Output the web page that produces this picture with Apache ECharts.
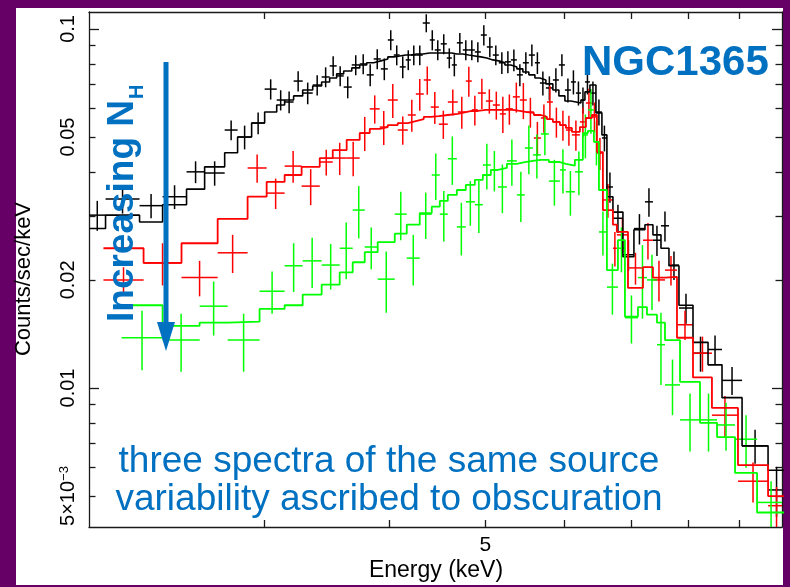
<!DOCTYPE html>
<html>
<head>
<meta charset="utf-8">
<title>NGC1365 spectra</title>
<script src="https://cdn.jsdelivr.net/npm/echarts@6/dist/echarts.min.js"></script>
<style>
  html, body { margin: 0; padding: 0; background: #660066; }
  #chart { width: 790px; height: 587px; }
</style>
</head>
<body>
<div id="chart"></div>
<script>
// ---- Energy range (keV) and count-rate range (counts/sec/keV) ----
const X_MIN = 2.0;
const X_MAX = 9.93;
const Y_MIN = 0.0041;
const Y_MAX = 0.1115;

// ---- Axis ticks and labels ----
const xTickValues = [3, 4, 5, 6, 7, 8, 9];
const xLabelValues = [5];
const yMajorTicks = [0.01, 0.1];
const yMinorTicks = [0.005, 0.006, 0.007, 0.008, 0.009, 0.02, 0.03, 0.04, 0.05, 0.06, 0.07, 0.08, 0.09];
const yLabelValues = [0.005, 0.01, 0.02, 0.05, 0.1];

// ---- Spectrum 1 (black): bin edges, data, errors, folded model ----
const blackEdges = [2.0, 2.078, 2.248, 2.371, 2.506, 2.613, 2.737, 2.820, 2.913, 3.002, 3.087, 3.144, 3.210, 3.278, 3.355, 3.425, 3.489, 3.546, 3.604, 3.672, 3.740, 3.801, 3.863, 3.927, 3.991, 4.046, 4.103, 4.160, 4.209, 4.268, 4.327, 4.398, 4.449, 4.511, 4.574, 4.628, 4.682, 4.747, 4.813, 4.881, 4.949, 5.018, 5.088, 5.159, 5.232, 5.305, 5.379, 5.454, 5.530, 5.608, 5.673, 5.752, 5.846, 5.928, 6.011, 6.095, 6.166, 6.238, 6.296, 6.369, 6.458, 6.548, 6.624, 6.717, 6.874, 7.051, 7.233, 7.368, 7.506, 7.646, 7.825, 8.083, 8.369, 8.644, 9.054, 9.615, 10.0];
const blackRate = [0.0303, 0.0336, 0.0322, 0.0341, 0.0400, 0.0397, 0.0523, 0.0500, 0.0547, 0.0680,
  0.0634, 0.0626, 0.0716, 0.0663, 0.0698, 0.0735, 0.0789, 0.0740, 0.0689, 0.0794,
  0.0799, 0.0745, 0.0825, 0.0774, 0.0932, 0.0846, 0.0784, 0.0820, 0.0846, 0.0846,
  0.1039, 0.0932, 0.0874, 0.0909, 0.0830, 0.0794, 0.0915, 0.0874, 0.0874, 0.0863,
  0.0962, 0.0891, 0.0846, 0.0805, 0.0810, 0.0820, 0.0745, 0.0805, 0.0846, 0.0805,
  0.0707, 0.0685, 0.0721, 0.0794, 0.0676, 0.0712, 0.0663, 0.0634, 0.0712, 0.0663,
  0.0587, 0.0497, 0.0363, 0.0297, 0.0235, 0.0278, 0.0330, 0.0258, 0.0283, 0.0220,
  0.0167, 0.0125, 0.0128, 0.0105, 0.0069, 0.0052];
const blackErr = [0.0029, 0.0030, 0.0025, 0.0026, 0.0028, 0.0031, 0.0033, 0.0038, 0.0038, 0.0044,
  0.0041, 0.0044, 0.0046, 0.0046, 0.0045, 0.0047, 0.0050, 0.0047, 0.0048, 0.0051,
  0.0051, 0.0052, 0.0053, 0.0054, 0.0060, 0.0054, 0.0055, 0.0052, 0.0054, 0.0054,
  0.0060, 0.0060, 0.0056, 0.0058, 0.0053, 0.0056, 0.0059, 0.0056, 0.0056, 0.0055,
  0.0062, 0.0057, 0.0054, 0.0056, 0.0057, 0.0057, 0.0052, 0.0056, 0.0059, 0.0056,
  0.0054, 0.0053, 0.0056, 0.0056, 0.0052, 0.0055, 0.0051, 0.0053, 0.0055, 0.0051,
  0.0049, 0.0041, 0.0035, 0.0027, 0.0023, 0.0027, 0.0030, 0.0025, 0.0027, 0.0020,
  0.0016, 0.0014, 0.0012, 0.00094, 0.00075, 0.00083];
const blackModel = [0.0278, 0.0303, 0.0290, 0.0324, 0.0358, 0.0413, 0.0452, 0.0500, 0.0547, 0.0587,
  0.0614, 0.0634, 0.0651, 0.0676, 0.0694, 0.0712, 0.0730, 0.0750, 0.0764, 0.0779,
  0.0794, 0.0805, 0.0815, 0.0825, 0.0836, 0.0841, 0.0846, 0.0846, 0.0852, 0.0852,
  0.0857, 0.0857, 0.0857, 0.0857, 0.0857, 0.0852, 0.0852, 0.0846, 0.0841, 0.0836,
  0.0830, 0.0820, 0.0815, 0.0805, 0.0794, 0.0784, 0.0774, 0.0759, 0.0745, 0.0730,
  0.0721, 0.0703, 0.0676, 0.0651, 0.0630, 0.0626, 0.0622, 0.0634, 0.0668, 0.0698,
  0.0584, 0.0507, 0.0341, 0.0309, 0.0232, 0.0276, 0.0285, 0.0267, 0.0245, 0.0219,
  0.0170, 0.0134, 0.0116, 0.0094, 0.0069, 0.0059];

// ---- Spectrum 2 (red) ----
const redEdges = [2.068, 2.269, 2.477, 2.693, 2.886, 3.016, 3.144, 3.270, 3.410, 3.514, 3.629, 3.740, 3.828, 3.917, 3.991, 4.084, 4.180, 4.258, 4.337, 4.408, 4.491, 4.585, 4.692, 4.780, 4.847, 4.915, 5.007, 5.088, 5.171, 5.244, 5.329, 5.416, 5.505, 5.595, 5.686, 5.766, 5.846, 5.942, 6.025, 6.109, 6.223, 6.310, 6.398, 6.473, 6.563, 6.717, 6.778, 6.955, 7.200, 7.368, 7.576, 7.789, 8.083, 8.445, 8.969, 9.615, 10.0];
const redRate = [0.0200, 0.0223, 0.0203, 0.0238, 0.0410, 0.0349, 0.0415, 0.0365, 0.0426, 0.0437,
  0.0437, 0.0513, 0.0599, 0.0533, 0.0634, 0.0523, 0.0576, 0.0659, 0.0721, 0.0606,
  0.0543, 0.0626, 0.0587, 0.0716, 0.0595, 0.0663, 0.0630, 0.0614, 0.0580, 0.0599,
  0.0647, 0.0634, 0.0587, 0.0497, 0.0565, 0.0626, 0.0551, 0.0540, 0.0523, 0.0507,
  0.0551, 0.0622, 0.0569, 0.0451, 0.0334, 0.0245, 0.0267, 0.0216, 0.0258, 0.0200,
  0.0213, 0.0150, 0.0125, 0.0084, 0.0055, 0.0047];
const redErr = [0.0017, 0.0030, 0.0023, 0.0029, 0.0037, 0.0034, 0.0042, 0.0042, 0.0035, 0.0045,
  0.0048, 0.0056, 0.0054, 0.0058, 0.0069, 0.0047, 0.0059, 0.0067, 0.0065, 0.0062,
  0.0049, 0.0052, 0.0060, 0.0069, 0.0057, 0.0064, 0.0049, 0.0055, 0.0067, 0.0058,
  0.0062, 0.0073, 0.0056, 0.0054, 0.0051, 0.0068, 0.0053, 0.0052, 0.0050, 0.0049,
  0.0053, 0.0060, 0.0055, 0.0046, 0.0036, 0.0027, 0.0029, 0.0022, 0.0030, 0.0026,
  0.0020, 0.0014, 0.0014, 0.0011, 0.0007, 0.0006];
const redModel = [0.0245, 0.0223, 0.0253, 0.0296, 0.0341, 0.0375, 0.0392, 0.0413, 0.0437, 0.0460,
  0.0491, 0.0513, 0.0527, 0.0533, 0.0540, 0.0547, 0.0554, 0.0561, 0.0569, 0.0572,
  0.0576, 0.0580, 0.0587, 0.0591, 0.0591, 0.0595, 0.0595, 0.0595, 0.0595, 0.0595,
  0.0591, 0.0587, 0.0584, 0.0576, 0.0569, 0.0561, 0.0551, 0.0540, 0.0530, 0.0517,
  0.0533, 0.0565, 0.0576, 0.0454, 0.0313, 0.0285, 0.0272, 0.0190, 0.0217, 0.0203,
  0.0204, 0.0138, 0.0107, 0.0088, 0.0061, 0.0050];

// ---- Spectrum 3 (green) ----
const greenEdges = [2.156, 2.371, 2.583, 2.756, 2.967, 3.144, 3.278, 3.425, 3.571, 3.680, 3.784, 3.899, 4.056, 4.170, 4.297, 4.418, 4.501, 4.585, 4.682, 4.780, 4.881, 4.972, 5.065, 5.148, 5.256, 5.379, 5.479, 5.582, 5.686, 5.792, 5.942, 6.025, 6.151, 6.266, 6.339, 6.428, 6.503, 6.624, 6.795, 6.906, 7.117, 7.267, 7.437, 7.576, 7.844, 8.215, 8.545, 8.908, 9.374, 10.0];
const greenRate = [0.0138, 0.0136, 0.0169, 0.0136, 0.0186, 0.0219, 0.0226, 0.0220, 0.0245, 0.0313,
  0.0247, 0.0201, 0.0305, 0.0230, 0.0305, 0.0392, 0.0305, 0.0435, 0.0281, 0.0330,
  0.0324, 0.0418, 0.0405, 0.0363, 0.0429, 0.0345, 0.0466, 0.0446, 0.0510, 0.0377,
  0.0405, 0.0352, 0.0400, 0.0507, 0.0595, 0.0485, 0.0272, 0.0191, 0.0245, 0.0157,
  0.0203, 0.0200, 0.0132, 0.0102, 0.00815, 0.00815, 0.00789, 0.0072, 0.0048];
const greenErr = [0.0026, 0.0025, 0.0029, 0.0025, 0.0025, 0.0034, 0.0036, 0.0032, 0.0044, 0.0052,
  0.0033, 0.0039, 0.0047, 0.0037, 0.0045, 0.0058, 0.0049, 0.0067, 0.0047, 0.0047,
  0.0054, 0.0061, 0.0052, 0.0056, 0.0063, 0.0055, 0.0072, 0.0063, 0.0065, 0.0055,
  0.0057, 0.0050, 0.0056, 0.0071, 0.0084, 0.0068, 0.0038, 0.0031, 0.0035, 0.0024,
  0.0047, 0.0035, 0.0030, 0.0018, 0.0015, 0.0015, 0.0012, 0.0012, 0.0007];
const greenModel = [0.0170, 0.0149, 0.0152, 0.0153, 0.0166, 0.0170, 0.0182, 0.0194, 0.0210, 0.0224,
  0.0239, 0.0255, 0.0269, 0.0285, 0.0307, 0.0320, 0.0332, 0.0345, 0.0356, 0.0368,
  0.0380, 0.0392, 0.0405, 0.0410, 0.0421, 0.0426, 0.0429, 0.0432, 0.0432, 0.0426,
  0.0421, 0.0416, 0.0432, 0.0513, 0.0520, 0.0485, 0.0356, 0.0213, 0.0258, 0.0158,
  0.0168, 0.0160, 0.0152, 0.0136, 0.0104, 0.0080, 0.0073, 0.0058, 0.0045];

// ---- Styling ----
const FONT = '"Liberation Sans", Arial, Helvetica, sans-serif';
const BLUE = '#0070c0';
const FRAME = { color: '#1a1a1a', width: 1.3 };
const COLORS = { black: '#000000', red: '#ff0000', green: '#00ff00' };

// Data points: horizontal bar across the energy bin, vertical bar for the 1-sigma error
function crossSeries(name, edges, rate, err, color) {
  const data = rate.map((r, i) => [edges[i], edges[i + 1], r, err[i]]);
  return {
    type: 'custom',
    name: name,
    coordinateSystem: 'cartesian2d',
    xAxisIndex: 0,
    yAxisIndex: 0,
    clip: true,
    silent: true,
    encode: { x: [0, 1], y: [2] },
    data: data,
    renderItem: function (params, api) {
      const lo = api.value(0), hi = api.value(1), r = api.value(2), e = api.value(3);
      const mid = Math.sqrt(lo * hi);
      const a = api.coord([lo, r]);
      const b = api.coord([hi, r]);
      const c = api.coord([mid, r - e]);
      const d = api.coord([mid, r + e]);
      const style = { stroke: color, lineWidth: 1.5 };
      return {
        type: 'group',
        children: [
          { type: 'line', shape: { x1: a[0], y1: a[1], x2: b[0], y2: b[1] }, style: style },
          { type: 'line', shape: { x1: c[0], y1: c[1], x2: d[0], y2: d[1] }, style: style }
        ]
      };
    }
  };
}

// Folded model: flat across each bin, joined into a histogram outline
function modelSeries(name, edges, model, color, width) {
  const pts = [];
  model.forEach((m, i) => { pts.push([edges[i], m]); pts.push([edges[i + 1], m]); });
  return {
    type: 'line',
    name: name,
    xAxisIndex: 0,
    yAxisIndex: 0,
    data: pts,
    symbol: 'none',
    showSymbol: false,
    silent: true,
    clip: true,
    lineStyle: { color: color, width: width },
    z: 3
  };
}

function xAxisCfg(position, showLabels) {
  return {
    type: 'log', logBase: 10, min: X_MIN, max: X_MAX, position: position,
    axisLine: { show: true, lineStyle: FRAME },
    axisTick: { show: true, inside: true, length: 7, customValues: xTickValues, lineStyle: FRAME },
    axisLabel: showLabels ? {
      show: true, customValues: xLabelValues, color: '#000', fontSize: 21, fontFamily: FONT, margin: 8,
      formatter: v => String(Math.round(v))
    } : { show: false },
    splitLine: { show: false }, minorTick: { show: false }, minorSplitLine: { show: false }
  };
}

function yLabel(v) {
  if (Math.abs(v - 0.005) < 1e-7) return '{m|5×10}{s|−3}';
  return String(Number(v.toPrecision(3)));
}

function yAxisCfg(position, ticks, len, showLine, showLabels) {
  return {
    type: 'log', logBase: 10, min: Y_MIN, max: Y_MAX, position: position,
    axisLine: { show: showLine, lineStyle: FRAME },
    axisTick: { show: true, inside: true, length: len, customValues: ticks, lineStyle: FRAME },
    axisLabel: showLabels ? {
      show: true, customValues: yLabelValues, rotate: 90, color: '#000', fontSize: 20, fontFamily: FONT, margin: 11,
      formatter: yLabel,
      rich: {
        m: { fontSize: 20, fontFamily: FONT, color: '#000', lineHeight: 20 },
        s: { fontSize: 13, fontFamily: FONT, color: '#000', verticalAlign: 'top', lineHeight: 20 }
      }
    } : { show: false },
    splitLine: { show: false }, minorTick: { show: false }, minorSplitLine: { show: false }
  };
}

const chart = echarts.init(document.getElementById('chart'), null, { renderer: 'canvas' });

chart.setOption({
  animation: false,
  backgroundColor: '#660066',
  textStyle: { fontFamily: FONT },
  grid: { left: 89, top: 12, width: 693, height: 515, containLabel: false },
  xAxis: [xAxisCfg('bottom', true), xAxisCfg('top', false)],
  yAxis: [
    yAxisCfg('left', yMajorTicks, 10, true, true),
    yAxisCfg('left', yMinorTicks, 6.5, false, false),
    yAxisCfg('right', yMajorTicks, 10, true, false),
    yAxisCfg('right', yMinorTicks, 6.5, false, false)
  ],
  series: [
    crossSeries('black data', blackEdges, blackRate, blackErr, COLORS.black),
    modelSeries('black model', blackEdges, blackModel, COLORS.black, 1.6),
    crossSeries('red data', redEdges, redRate, redErr, COLORS.red),
    modelSeries('red model', redEdges, redModel, COLORS.red, 1.8),
    crossSeries('green data', greenEdges, greenRate, greenErr, COLORS.green),
    modelSeries('green model', greenEdges, greenModel, COLORS.green, 1.8)
  ],
  graphic: [
    // white slide panel inside the purple frame
    { type: 'rect', z: -10, silent: true, shape: { x: 16, y: 8, width: 767, height: 577 }, style: { fill: '#ffffff' } },
    // axis titles
    { type: 'text', z: 50, silent: true, x: 24, y: 279, rotation: Math.PI / 2,
      style: { text: 'Counts/sec/keV', font: '22px ' + FONT, fill: '#000', textAlign: 'center', textVerticalAlign: 'middle', align: 'center', verticalAlign: 'middle' } },
    { type: 'text', z: 50, silent: true, x: 436, y: 571,
      style: { text: 'Energy (keV)', font: '23px ' + FONT, fill: '#000', textAlign: 'center', textVerticalAlign: 'middle', align: 'center', verticalAlign: 'middle' } },
    // source name
    { type: 'text', z: 50, silent: true, x: 582, y: 63,
      style: { text: 'NGC1365', font: 'bold 42px ' + FONT, fill: BLUE, textAlign: 'left', textVerticalAlign: 'middle', align: 'left', verticalAlign: 'middle' } },
    // column density annotation
    { type: 'text', z: 50, silent: true, x: 123, y: 322, rotation: Math.PI / 2,
      style: { text: 'Increasing N', font: 'bold 37px ' + FONT, fill: BLUE, textAlign: 'left', textVerticalAlign: 'middle', align: 'left', verticalAlign: 'middle' } },
    { type: 'text', z: 50, silent: true, x: 137, y: 99, rotation: Math.PI / 2,
      style: { text: 'H', font: 'bold 20px ' + FONT, fill: BLUE, textAlign: 'left', textVerticalAlign: 'middle', align: 'left', verticalAlign: 'middle' } },
    { type: 'line', z: 50, silent: true, shape: { x1: 166, y1: 62, x2: 166, y2: 326 }, style: { stroke: BLUE, lineWidth: 5 } },
    { type: 'polygon', z: 50, silent: true, shape: { points: [[157, 322], [175, 322], [166, 351]] }, style: { fill: BLUE } },
    // caption
    { type: 'text', z: 50, silent: true, x: 389, y: 462,
      style: { text: 'three spectra of the same source', font: '37px ' + FONT, fill: BLUE, textAlign: 'center', textVerticalAlign: 'middle', align: 'center', verticalAlign: 'middle' } },
    { type: 'text', z: 50, silent: true, x: 389, y: 500,
      style: { text: 'variability ascribed to obscuration', font: '37px ' + FONT, fill: BLUE, textAlign: 'center', textVerticalAlign: 'middle', align: 'center', verticalAlign: 'middle' } }
  ]
});
</script>
</body>
</html>
